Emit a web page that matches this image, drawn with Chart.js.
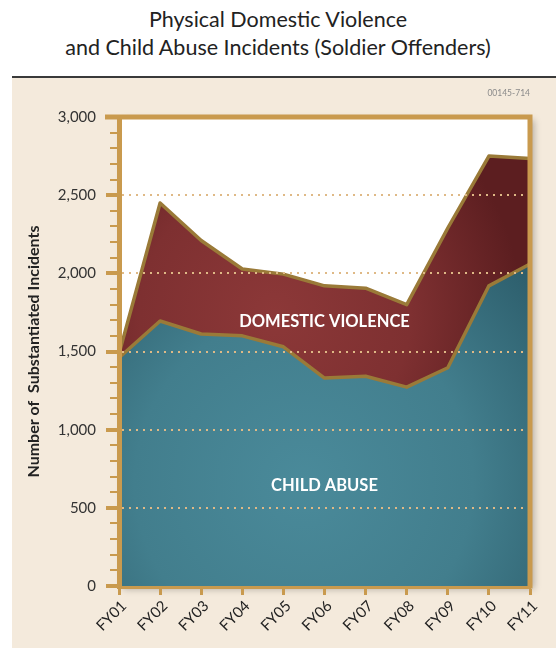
<!DOCTYPE html>
<html>
<head>
<meta charset="utf-8">
<script src="https://cdn.jsdelivr.net/npm/chart.js@4"></script>
<style>
  body { margin: 0; background: #fff; width: 556px; height: 651px; position: relative; overflow: hidden; font-family: Lato, sans-serif; }
  #title { position: absolute; top: 5px; left: 0; width: 556px; text-align: center; font-size: 21.5px; line-height: 28px; color: #222; }
  #rule { position: absolute; top: 76px; left: 12px; width: 544px; height: 2px; background: #3a3a3a; }
  #panel { position: absolute; top: 78px; left: 12px; width: 544px; height: 570px; background: #f4eadc; }
  #code { position: absolute; top: 10px; right: 26px; font-size: 8.5px; color: #8a8a8a; }
  canvas { position: absolute; left: 0; top: 0; }
</style>
</head>
<body>
<div id="title">Physical Domestic Violence<br>and Child Abuse Incidents (Soldier Offenders)</div>
<div id="rule"></div>
<div id="panel">
  <canvas id="incidentsChart" width="544" height="570"></canvas>
  <div id="code">00145-714</div>
</div>
<script>
let years = ['FY01', 'FY02', 'FY03', 'FY04', 'FY05', 'FY06', 'FY07', 'FY08', 'FY09', 'FY10', 'FY11'];
let childAbuse = [1460, 1695, 1612, 1600, 1530, 1330, 1342, 1272, 1396, 1920, 2060];
let domesticViolence = [25, 755, 598, 428, 465, 590, 563, 528, 894, 830, 675];
let yTicks = [0, 500, 1000, 1500, 2000, 2500, 3000];

let tan = '#c99a4e';
let lineColor = '#9a7a38';

function radial(ctx, fx, fy, fr, stops) {
    let chart = ctx.chart;
    let a = chart.chartArea;
    if (!a) return stops[0][1];
    let w = a.right - a.left, h = a.bottom - a.top;
    let g = chart.ctx.createRadialGradient(a.left + w * fx, a.top + h * fy, 0, a.left + w * fx, a.top + h * fy, w * fr);
    stops.forEach(s => g.addColorStop(s[0], s[1]));
    return g;
}

let decor = {
    id: 'decor',
    beforeDraw(chart) {
        let c = chart.ctx, a = chart.chartArea;
        c.save();
        c.shadowColor = 'rgba(0,0,0,0.28)';
        c.shadowBlur = 7;
        c.shadowOffsetX = 4;
        c.shadowOffsetY = 3;
        c.fillStyle = '#fff';
        c.fillRect(a.left, a.top, a.right - a.left, a.bottom - a.top);
        c.restore();
    },
    afterDatasetsDraw(chart) {
        let x = chart.scales.x, y = chart.scales.y;
        let c = chart.ctx;
        c.save();
        c.fillStyle = '#fff';
        c.font = 'bold 16.5px Lato';
        c.textAlign = 'center';
        c.textBaseline = 'middle';
        c.fillText('DOMESTIC VIOLENCE', x.getPixelForValue(5), y.getPixelForValue(1690));
        c.fillText('CHILD ABUSE', x.getPixelForValue(5), y.getPixelForValue(642));
        c.restore();
    },
    afterDraw(chart) {
        let c = chart.ctx, a = chart.chartArea;
        let y = chart.scales.y;
        c.save();
        c.strokeStyle = tan;
        // top and right frame
        c.lineWidth = 5;
        c.beginPath();
        c.moveTo(a.left - 14, a.top);
        c.lineTo(a.right + 2.5, a.top);
        c.moveTo(a.right, a.top);
        c.lineTo(a.right, a.bottom + 2.5);
        c.stroke();
        // minor ticks
        c.lineWidth = 2;
        c.beginPath();
        for (let v = 100; v < 3000; v += 100) {
            if (v % 500 === 0) continue;
            let py = Math.round(y.getPixelForValue(v));
            c.moveTo(a.left - 9, py);
            c.lineTo(a.left, py);
        }
        c.stroke();
        c.restore();
    }
};

let incidentsChartEl = document.getElementById('incidentsChart').getContext('2d');
let incidentsChart = new Chart(incidentsChartEl, {
    type: 'line',
    data: {
        labels: years,
        datasets: [
            {
                label: 'Child Abuse',
                data: childAbuse,
                fill: 'origin',
                borderColor: lineColor,
                borderWidth: 3.5,
                backgroundColor: ctx => radial(ctx, 0.45, 0.78, 0.75, [[0, '#4a8a9a'], [0.55, '#427e8d'], [1, '#2d5e6c']])
            },
            {
                label: 'Domestic Violence',
                data: domesticViolence,
                fill: '-1',
                borderColor: lineColor,
                borderWidth: 3.5,
                backgroundColor: ctx => radial(ctx, 0.38, 0.42, 0.6, [[0, '#8c3838'], [0.55, '#7e3031'], [1, '#5c1e20']])
            }
        ]
    },
    options: {
        responsive: false,
        animation: false,
        layout: { padding: { top: 39, right: 26, left: 0, bottom: 0 } },
        elements: { point: { radius: 0 }, line: { tension: 0, borderJoinStyle: 'round' } },
        plugins: {
            legend: { display: false },
            tooltip: { enabled: false }
        },
        scales: {
            x: {
                afterFit: s => { s.height = 62; },
                grid: { drawOnChartArea: false, tickLength: 9, tickWidth: 3, tickColor: tan, tickBorderDash: [] },
                border: { color: tan, width: 5 },
                ticks: { color: '#222', font: { family: 'Lato', size: 15 }, minRotation: 45, maxRotation: 45, padding: 2, labelOffset: 5 }
            },
            y: {
                stacked: true,
                min: 0,
                max: 3000,
                afterFit: s => { s.width = 107; },
                afterBuildTicks: s => { s.ticks = yTicks.map(v => ({ value: v })); },
                grid: {
                    z: 1,
                    lineWidth: 2,
                    color: ctx => (ctx.tick && ctx.tick.value > 0 && ctx.tick.value < 3000) ? '#dfb986' : 'rgba(0,0,0,0)',
                    tickLength: 13,
                    tickWidth: 4,
                    tickColor: tan,
                    tickBorderDash: []
                },
                border: { color: tan, width: 5, dash: [2, 5], z: 1 },
                ticks: {
                    color: '#333',
                    font: { family: 'Lato', size: 15 },
                    padding: 10,
                    callback: v => v.toLocaleString('en-US')
                },
                title: {
                    display: true,
                    text: 'Number of  Substantiated Incidents',
                    color: '#222',
                    font: { family: 'Lato', size: 16, weight: 'bold' },
                    padding: { top: 12, bottom: 0 }
                }
            }
        }
    },
    plugins: [decor]
});
</script>
</body>
</html>
